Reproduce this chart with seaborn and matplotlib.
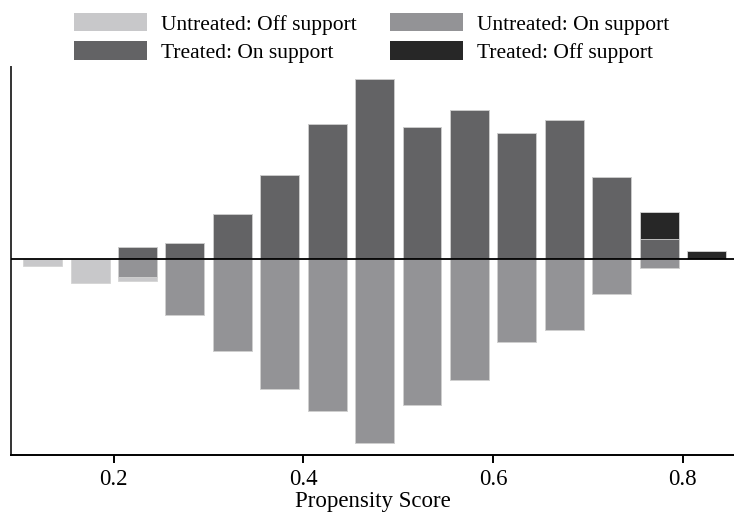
import numpy as np
import pandas as pd
import matplotlib.pyplot as plt
import seaborn as sns
from matplotlib.patches import Patch

# propensity score bins (centres) and bar heights
bins = [0.125, 0.175, 0.225, 0.275, 0.325, 0.375, 0.425, 0.475,
        0.525, 0.575, 0.625, 0.675, 0.725, 0.775, 0.825]
treated_on = [0, 0, 1.2, 1.55, 4.45, 8.35, 13.45, 17.95,
              13.15, 14.85, 12.55, 13.85, 8.15, 1.95, 0]
treated_off = [0, 0, 0, 0, 0, 0, 0, 0, 0, 0, 0, 0, 0, 2.7, 0.75]
untreated_on = [0, 0, 1.83, 5.65, 9.25, 13.05, 15.25, 18.45,
                14.65, 12.15, 8.35, 7.15, 3.55, 0.95, 0]
untreated_off = [0.7, 2.45, 0.43, 0, 0, 0, 0, 0, 0, 0, 0, 0, 0, 0, 0]

labels = ["Untreated: Off support", "Treated: On support",
          "Untreated: On support", "Treated: Off support"]
colors = {"Untreated: Off support": "#c8c8ca", "Untreated: On support": "#939396",
          "Treated: On support": "#636365", "Treated: Off support": "#272727"}

df = pd.DataFrame({"ps": bins, "t_on": treated_on, "t_off": treated_off,
                   "u_on": untreated_on, "u_off": untreated_off})
# stacked bars: draw the totals first, then the inner segment over them
df["t_tot"] = df["t_on"] + df["t_off"]
df["u_tot"] = -(df["u_on"] + df["u_off"])
df["u_on_neg"] = -df["u_on"]

plt.rcParams["font.family"] = ["Liberation Serif", "DejaVu Serif"]
fig = plt.figure(figsize=(7.34, 5.12), dpi=100)
ax = fig.add_axes([11 / 734, 57 / 512, 723 / 734, 388.3 / 512])

layers = [("t_tot", "Treated: Off support"), ("t_on", "Treated: On support"),
          ("u_tot", "Untreated: Off support"), ("u_on_neg", "Untreated: On support")]
for col, lab in layers:
    sub = df[df[col] != 0]
    sns.barplot(data=sub, x="ps", y=col, native_scale=True, width=0.82,
                color=colors[lab], saturation=1, errorbar=None,
                edgecolor="#d4d4d4", linewidth=0.6, ax=ax)

ax.axhline(0, color="black", lw=1.3, zorder=5)
ax.set_xlim(0.0916, 0.854)
ax.set_ylim(-19.65, 19.18)
ax.set_xticks([0.2, 0.4, 0.6, 0.8])
ax.set_xticklabels(["0.2", "0.4", "0.6", "0.8"])
ax.set_yticks([])
ax.set_ylabel("")
ax.set_xlabel("Propensity Score", fontsize=16.5, labelpad=0.5)
ax.tick_params(axis="x", labelsize=16.5, length=6, width=1.4, pad=4)
for s in ["top", "right"]:
    ax.spines[s].set_visible(False)
ax.spines["bottom"].set_linewidth(1.4)
ax.spines["left"].set_linewidth(1.4)
ax.spines["left"].set_color("#333333")

handles = [Patch(facecolor=colors[l], edgecolor="none") for l in labels]
fig.legend(handles, labels, loc="upper center", bbox_to_anchor=(0.506, 1.0),
           ncol=2, frameon=False, fontsize=15.5, handlelength=3.4,
           handleheight=0.95, handletextpad=0.65, columnspacing=1.55,
           labelspacing=0.3, borderaxespad=0.2)

fig.savefig("out.png", dpi=100)
